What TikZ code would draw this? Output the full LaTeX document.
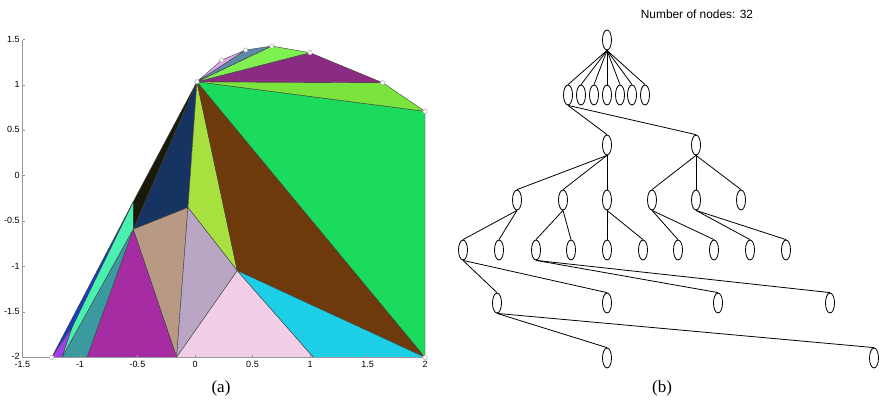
\documentclass[tikz,border=0pt]{standalone}
\usepackage{fontspec}
\setmainfont{Liberation Serif}
\setsansfont{Liberation Sans}
\usepackage{tikz}
\usetikzlibrary{shapes.geometric}
\usepackage{xcolor}
\definecolor{TriNavy}{RGB}{22,52,98}
\definecolor{TriBlack}{RGB}{26,26,10}
\definecolor{TriLima}{RGB}{168,224,64}
\definecolor{TriCafe}{RGB}{110,58,12}
\definecolor{TriVerde}{RGB}{26,219,92}
\definecolor{TriVerdeClaro}{RGB}{122,228,60}
\definecolor{TriMorado}{RGB}{138,44,130}
\definecolor{TriVerdeAlto}{RGB}{128,240,80}
\definecolor{TriAcero}{RGB}{90,138,168}
\definecolor{TriLavanda}{RGB}{221,168,232}
\definecolor{TriTostado}{RGB}{184,154,132}
\definecolor{TriLila}{RGB}{184,166,196}
\definecolor{TriRosa}{RGB}{242,206,232}
\definecolor{TriCian}{RGB}{28,207,230}
\definecolor{TriMagenta}{RGB}{166,44,164}
\definecolor{TriTeal}{RGB}{58,154,160}
\definecolor{TriMenta}{RGB}{74,240,176}
\definecolor{TriAzul}{RGB}{26,60,192}
\definecolor{TriVioleta}{RGB}{160,64,232}

\begin{document}
\begin{tikzpicture}[x=1pt, y=-1pt,
  tri/.style={draw=black!75, line width=0.4pt},
  axisline/.style={draw=gray!80, line width=0.8pt},
  ticklab/.style={font=\sffamily\fontsize{9}{9}\selectfont, inner sep=0.5pt},
  hullpt/.style={draw=gray!70, fill=white, line width=0.5pt},
  tnode/.style={ellipse, draw, line width=0.8pt, minimum width=9pt, minimum height=20pt, inner sep=0pt},
  tedge/.style={line width=0.8pt}]
  \useasboundingbox (0,0) rectangle (882,400);

  % (a) triangulation
  \begin{scope}[shift={(195,175.7)}, x=115pt, y=90.8pt]
    \coordinate (A) at (0.017,1.035);
    \coordinate (T1) at (0.232,1.274);
    \coordinate (T2) at (0.44,1.384);
    \coordinate (T3) at (0.667,1.428);
    \coordinate (T4) at (1.0,1.355);
    \coordinate (T5) at (1.632,1.024);
    \coordinate (RT) at (2.0,0.709);
    \coordinate (BR) at (2.0,-2);
    \coordinate (B3) at (1.03,-2);
    \coordinate (P5) at (-0.16,-2);
    \coordinate (B2) at (-0.94,-2);
    \coordinate (B1) at (-1.157,-2);
    \coordinate (BL) at (-1.246,-2);
    \coordinate (Q) at (-1.072,-1.677);
    \coordinate (P1) at (-0.537,-0.286);
    \coordinate (P2) at (-0.537,-0.590);
    \coordinate (P3) at (-0.061,-0.350);
    \coordinate (P4) at (0.368,-1.046);

    \filldraw[tri, fill=TriNavy] (A) -- (P2) -- (P3) -- cycle;
    \filldraw[tri, fill=TriBlack] (A) -- (P1) -- (P2) -- cycle;
    \filldraw[tri, fill=TriLima] (A) -- (P3) -- (P4) -- cycle;
    \filldraw[tri, fill=TriCafe] (A) -- (P4) -- (BR) -- cycle;
    \filldraw[tri, fill=TriVerde] (A) -- (BR) -- (RT) -- cycle;
    \filldraw[tri, fill=TriVerdeClaro] (A) -- (RT) -- (T5) -- cycle;
    \filldraw[tri, fill=TriMorado] (A) -- (T5) -- (T4) -- cycle;
    \filldraw[tri, fill=TriVerdeAlto] (A) -- (T4) -- (T3) -- cycle;
    \filldraw[tri, fill=TriAcero] (A) -- (T3) -- (T2) -- cycle;
    \filldraw[tri, fill=TriLavanda] (A) -- (T2) -- (T1) -- cycle;
    \filldraw[tri, fill=TriTostado] (P2) -- (P3) -- (P5) -- cycle;
    \filldraw[tri, fill=TriLila] (P3) -- (P4) -- (P5) -- cycle;
    \filldraw[tri, fill=TriRosa] (P4) -- (P5) -- (B3) -- cycle;
    \filldraw[tri, fill=TriCian] (P4) -- (B3) -- (BR) -- cycle;
    \filldraw[tri, fill=TriMagenta] (P2) -- (B2) -- (P5) -- cycle;
    \filldraw[tri, fill=TriTeal] (P2) -- (B1) -- (B2) -- cycle;
    \filldraw[tri, fill=TriMenta] (P1) -- (P2) -- (B1) -- (Q) -- cycle;
    \filldraw[tri, fill=TriAzul] (BL) -- (P1) -- (Q) -- cycle;
    \filldraw[tri, fill=TriVioleta] (BL) -- (Q) -- (B1) -- cycle;

    % axes
    \draw[axisline] (-1.5,1.5) -- (-1.5,-2) -- (2,-2);
    \foreach \yv in {1.5,1,0.5,0,-0.5,-1,-1.5,-2}
      \draw[axisline] (-1.5,\yv) -- ++(2pt,0) node[ticklab, anchor=east, xshift=-4pt, yshift=0.5pt] {\yv};
    \foreach \xu in {-1.5,-1,-0.5,0,0.5,1,1.5,2}
      \draw[axisline] (\xu,-2) -- ++(0,2pt) node[ticklab, anchor=north, yshift=-5.5pt] {\xu};

    \foreach \p in {BL,A,T1,T2,T3,T4,T5,RT,BR}
      \filldraw[hullpt] (\p) circle[radius=2.2pt];
  \end{scope}

  % (b) tree
  \node[font=\sffamily\fontsize{11.9}{12}\selectfont] (titulo) at (697,14) {Number of nodes: 32};
  \node[tnode] (r) at (607,40) {};
  \foreach \i/\x in {1/568,2/581,3/594,4/607,5/620,6/632,7/645}
  {
    \node[tnode] (c\i) at (\x,95) {};
    \draw[tedge] (r.south) -- (c\i.north);
  }
  \node[tnode] (a) at (607,145) {};
  \node[tnode] (b) at (696,145) {};
  \node[tnode] (a1) at (517,200) {};
  \node[tnode] (a2) at (563,200) {};
  \node[tnode] (a3) at (607,200) {};
  \node[tnode] (b1) at (652,200) {};
  \node[tnode] (b2) at (696,200) {};
  \node[tnode] (b3) at (741,200) {};
  \node[tnode] (a11) at (463,250) {};
  \node[tnode] (a12) at (499,250) {};
  \node[tnode] (a21) at (536,250) {};
  \node[tnode] (a22) at (571,250) {};
  \node[tnode] (a31) at (607,250) {};
  \node[tnode] (a32) at (643,250) {};
  \node[tnode] (b11) at (678,250) {};
  \node[tnode] (b12) at (714,250) {};
  \node[tnode] (b21) at (750,250) {};
  \node[tnode] (b22) at (786,250) {};
  \node[tnode] (d1) at (497,303) {};
  \node[tnode] (d2) at (607,303) {};
  \node[tnode] (d3) at (718,303) {};
  \node[tnode] (d4) at (830,303) {};
  \node[tnode] (e1) at (607,358) {};
  \node[tnode] (e2) at (874,358) {};
  \foreach \p/\h in {c1/a,c1/b,a/a1,a/a2,a/a3,b/b1,b/b2,b/b3,a1/a11,a1/a12,a2/a21,a2/a22,a3/a31,a3/a32,b1/b11,b1/b12,b2/b21,b2/b22,a11/d1,a11/d2,a21/d3,a21/d4,d1/e1,d1/e2}
    \draw[tedge] (\p.south) -- (\h.north);

  \node[font=\fontsize{17}{18}\selectfont] (capa) at (221,388) {(a)};
  \node[font=\fontsize{17}{18}\selectfont] (capb) at (662,388) {(b)};
\end{tikzpicture}
\end{document}
